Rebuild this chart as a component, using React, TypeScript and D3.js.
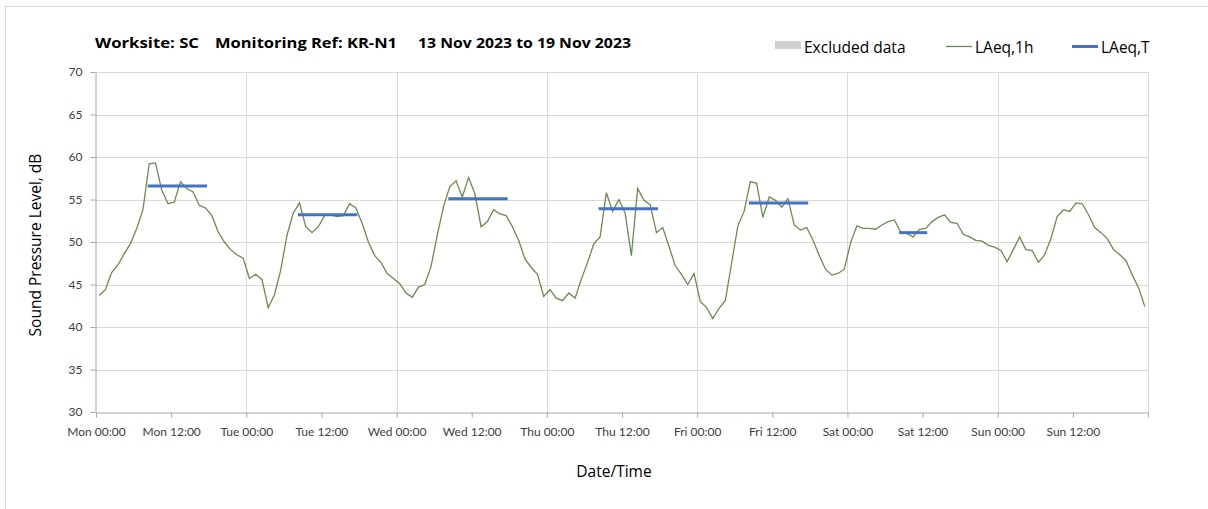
import * as d3 from "d3";
import React, { useEffect, useRef } from "react";

// hourly LAeq,1h readings, one array per day (00:00 .. 23:00)
const mon = [43.7, 44.4, 46.4, 47.3, 48.6, 49.8, 51.6, 53.8, 59.2, 59.3, 56.1, 54.5, 54.7, 57.1, 56.3, 55.9, 54.3, 54.0, 53.1, 51.2, 50.0, 49.1, 48.5, 48.1];
const tue = [45.7, 46.2, 45.6, 42.3, 43.8, 46.7, 50.8, 53.4, 54.6, 51.8, 51.1, 51.8, 53.1, 53.2, 53.0, 53.1, 54.5, 54.0, 52.2, 50.0, 48.4, 47.6, 46.3, 45.7];
const wed = [45.1, 44.0, 43.5, 44.7, 45.0, 47.1, 50.8, 54.2, 56.5, 57.2, 55.3, 57.6, 55.7, 51.8, 52.4, 53.8, 53.3, 53.1, 51.8, 50.2, 48.0, 47.0, 46.2, 43.6];
const thu = [44.4, 43.4, 43.1, 44.0, 43.4, 45.6, 47.6, 49.8, 50.6, 55.8, 53.6, 55.0, 53.4, 48.4, 56.3, 54.9, 54.4, 51.1, 51.7, 49.5, 47.2, 46.2, 45.0, 46.3];
const fri = [43.0, 42.3, 41.0, 42.2, 43.1, 47.5, 51.9, 53.6, 57.1, 56.9, 52.9, 55.3, 54.9, 54.1, 55.1, 52.0, 51.4, 51.7, 50.2, 48.4, 46.8, 46.1, 46.3, 46.8];
const sat = [49.9, 51.9, 51.6, 51.6, 51.5, 52.0, 52.4, 52.6, 51.2, 51.0, 50.6, 51.5, 51.6, 52.4, 52.9, 53.2, 52.3, 52.2, 50.9, 50.6, 50.2, 50.1, 49.6, 49.4];
const sun = [49.0, 47.7, 49.1, 50.6, 49.1, 49.0, 47.6, 48.5, 50.4, 53.0, 53.8, 53.6, 54.6, 54.5, 53.2, 51.7, 51.1, 50.4, 49.1, 48.5, 47.8, 46.1, 44.6, 42.4];

// daytime LAeq,T per day, hours 08:00 to end hour
const laeqT = [56.6, 53.2, 55.1, 53.9, 54.6, 51.1];
const laeqTStart = [8, 8, 8, 8, 8, 8];
const laeqTEnd = [17, 17, 17, 17, 17, 12];

const yTicks = [30, 35, 40, 45, 50, 55, 60, 65, 70];

const FONT = "Lato, 'Open Sans', sans-serif";
const LABEL_FONT = "'Open Sans', sans-serif";

export default function App() {
  const ref = useRef(null);

  useEffect(() => {
    const width = 1208;
    const height = 509;
    const margin = { top: 72, right: 60, bottom: 97, left: 96 };

    const svg = d3.select(ref.current);
    svg.selectAll("*").remove();
    svg.attr("width", width).attr("height", height).style("font-family", FONT);

    const start = new Date(Date.UTC(2023, 10, 13));
    const end = d3.utcDay.offset(start, 7);
    const hour = (h) => d3.utcMinute.offset(start, h * 60);

    const x = d3.scaleUtc().domain([start, end]).range([margin.left, width - margin.right]);
    const y = d3.scaleLinear().domain([30, 70]).range([height - margin.bottom, margin.top]);

    const hourly = [mon, tue, wed, thu, fri, sat, sun].flatMap((day, d) =>
      day.map((v, h) => ({ t: hour(d * 24 + h + 0.5), v }))
    );

    // frame
    svg.append("rect").attr("x", 5.5).attr("y", 6.5).attr("width", 1300).attr("height", 600)
      .attr("fill", "white").attr("stroke", "#d9d9d9");

    // gridlines
    svg.append("g").selectAll("line").data(yTicks.slice(1)).join("line")
      .attr("x1", margin.left).attr("x2", width - margin.right)
      .attr("y1", (d) => Math.round(y(d)) + 0.5).attr("y2", (d) => Math.round(y(d)) + 0.5)
      .attr("stroke", "#d9d9d9");
    svg.append("g").selectAll("line").data(d3.utcDay.range(d3.utcDay.offset(start, 1), d3.utcDay.offset(end, 1))).join("line")
      .attr("x1", (d) => Math.round(x(d)) + 0.5).attr("x2", (d) => Math.round(x(d)) + 0.5)
      .attr("y1", margin.top).attr("y2", y(30))
      .attr("stroke", "#d9d9d9");

    // axes
    const fmt = d3.utcFormat("%a %H:%M");
    const xTicks = d3.utcHour.every(12).range(start, d3.utcHour.offset(end, 1));
    const xAxis = svg.append("g")
      .attr("transform", `translate(0,${Math.round(y(30)) + 0.5})`)
      .call(d3.axisBottom(x).tickValues(xTicks).tickSize(5).tickSizeOuter(0)
        .tickFormat((d, i) => (i < xTicks.length - 1 ? fmt(d) : "")));
    xAxis.select(".domain").attr("stroke", "#a6a6a6");
    xAxis.selectAll(".tick line").attr("stroke", "#a6a6a6");
    xAxis.selectAll(".tick text").attr("fill", "#404040").attr("font-size", 12).attr("font-family", FONT).attr("dy", "1.3em");

    const yAxis = svg.append("g")
      .attr("transform", `translate(${margin.left - 0.5},0)`)
      .call(d3.axisLeft(y).tickValues(yTicks).tickSize(5).tickSizeOuter(0).tickPadding(8));
    yAxis.select(".domain").attr("stroke", "#a6a6a6");
    yAxis.selectAll(".tick line").attr("stroke", "#a6a6a6");
    yAxis.selectAll(".tick text").attr("fill", "#404040").attr("font-size", 12).attr("font-family", FONT);

    // LAeq,1h line
    const line = d3.line().x((d) => x(d.t)).y((d) => y(d.v));
    svg.append("path").datum(hourly).attr("d", line)
      .attr("fill", "none").attr("stroke", "#6b8a52").attr("stroke-width", 1.3);

    // LAeq,T bars
    laeqT.forEach((v, d) => {
      const pts = d3.range(laeqTStart[d], laeqTEnd[d] + 1).map((h) => ({ t: hour(d * 24 + h + 0.5), v }));
      svg.append("path").datum(pts).attr("d", line)
        .attr("fill", "none").attr("stroke", "#4472c4").attr("stroke-width", 3).attr("stroke-linecap", "square");
    });

    // title
    const title = svg.append("text").attr("y", 48).attr("font-family", LABEL_FONT)
      .attr("font-size", 15).attr("font-weight", "bold").attr("fill", "#000");
    title.append("tspan").attr("x", 95).attr("textLength", 104).attr("lengthAdjust", "spacingAndGlyphs").text("Worksite: SC");
    title.append("tspan").attr("x", 215).attr("textLength", 182).attr("lengthAdjust", "spacingAndGlyphs").text("Monitoring Ref: KR-N1");
    title.append("tspan").attr("x", 418).attr("textLength", 213).attr("lengthAdjust", "spacingAndGlyphs").text("13 Nov 2023 to 19 Nov 2023");

    // legend
    const lg = svg.append("g").attr("font-size", 15.5).attr("font-family", LABEL_FONT).attr("fill", "#000");
    lg.append("rect").attr("x", 775).attr("y", 41).attr("width", 26).attr("height", 8).attr("fill", "#d0d0d0");
    lg.append("text").attr("x", 804).attr("y", 52.5).text("Excluded data");
    lg.append("line").attr("x1", 946).attr("x2", 972).attr("y1", 46.5).attr("y2", 46.5).attr("stroke", "#6b8a52").attr("stroke-width", 1.3);
    lg.append("text").attr("x", 975).attr("y", 52.5).text("LAeq,1h");
    lg.append("line").attr("x1", 1072).attr("x2", 1098).attr("y1", 46.5).attr("y2", 46.5).attr("stroke", "#4472c4").attr("stroke-width", 3);
    lg.append("text").attr("x", 1101).attr("y", 52.5).text("LAeq,T");

    // axis titles
    svg.append("text").attr("transform", `translate(41,${(y(30) + y(70)) / 2 + 3}) rotate(-90)`)
      .attr("text-anchor", "middle").attr("font-family", LABEL_FONT).attr("font-size", 15.5).attr("fill", "#000").text("Sound Pressure Level, dB");
    svg.append("text").attr("x", 614).attr("y", 477)
      .attr("text-anchor", "middle").attr("font-family", LABEL_FONT).attr("font-size", 15.5).attr("fill", "#000").text("Date/Time");
  }, []);

  return <svg ref={ref} style={{ position: "absolute", left: 0, top: 0 }}></svg>;
}
